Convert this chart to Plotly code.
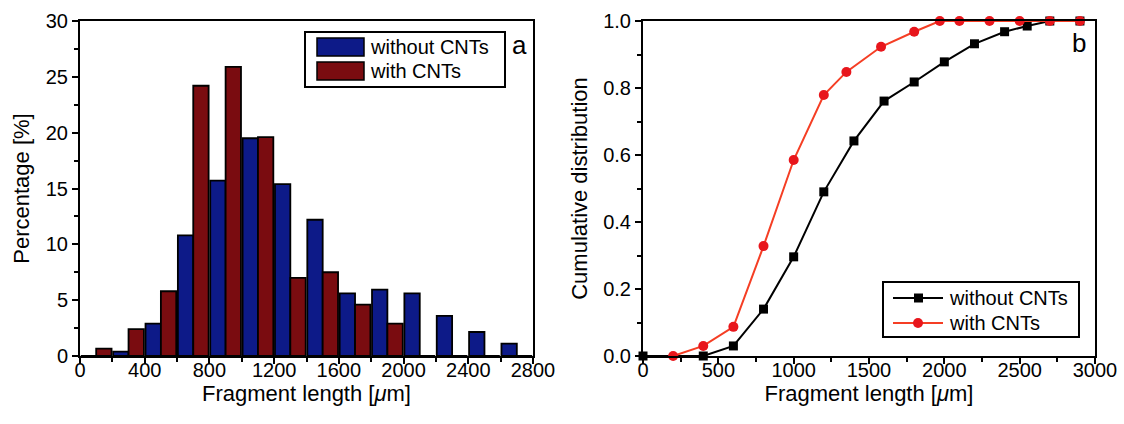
import plotly.graph_objects as go

# ---------------- data ----------------
bin_centers = [100, 300, 500, 700, 900, 1100, 1300, 1500, 1700, 1900, 2100, 2300, 2500, 2700]
pct_without = [0, 0.4, 2.9, 10.8, 15.7, 19.5, 15.4, 12.2, 5.6, 5.95, 5.6, 3.6, 2.15, 1.1]
pct_with = [0.66, 2.4, 5.8, 24.2, 25.9, 19.6, 7.0, 7.5, 4.6, 2.9, 0, 0, 0, 0]

cdf_without_x = [0, 400, 600, 800, 1000, 1200, 1400, 1600, 1800, 2000, 2200, 2400, 2550, 2700, 2900]
cdf_without_y = [0, 0, 0.03, 0.14, 0.296, 0.49, 0.642, 0.761, 0.818, 0.878, 0.932, 0.968, 0.985, 1.0, 1.0]
cdf_with_x = [200, 400, 600, 800, 1000, 1200, 1350, 1580, 1800, 1970, 2100, 2300, 2500, 2700, 2900]
cdf_with_y = [0, 0.03, 0.087, 0.328, 0.585, 0.779, 0.848, 0.923, 0.968, 1.0, 1.0, 1.0, 1.0, 1.0, 1.0]

series_names = ["without CNTs", "with CNTs"]

# ---------------- style ----------------
W, H = 1124, 424
FONT = "Liberation Sans, Arial, Helvetica, sans-serif"
BLUE = "#0d1a88"
MAROON = "#7a0c10"
LINE_RED = "#f53e24"
MARK_RED = "#e8161c"


def px(x):
    return x / W


def py(y):
    return 1 - y / H


fig = go.Figure()

fig.add_trace(go.Bar(x=bin_centers, y=pct_without, name=series_names[0],
                     marker=dict(color=BLUE, line=dict(color="black", width=1.8)),
                     xaxis="x", yaxis="y", showlegend=False))
fig.add_trace(go.Bar(x=bin_centers, y=pct_with, name=series_names[1],
                     marker=dict(color=MAROON, line=dict(color="black", width=1.8)),
                     xaxis="x", yaxis="y", showlegend=False))

fig.add_trace(go.Scatter(x=cdf_without_x, y=cdf_without_y, name=series_names[0], mode="lines+markers",
                         line=dict(color="black", width=2),
                         marker=dict(symbol="square", size=9, color="black"),
                         xaxis="x2", yaxis="y2", cliponaxis=False, showlegend=False))
fig.add_trace(go.Scatter(x=cdf_with_x, y=cdf_with_y, name=series_names[1], mode="lines+markers",
                         line=dict(color=LINE_RED, width=2),
                         marker=dict(symbol="circle", size=10, color=MARK_RED),
                         xaxis="x2", yaxis="y2", cliponaxis=False, showlegend=False))

axis_common = dict(showline=True, linecolor="black", linewidth=2, mirror=True,
                   ticks="outside", ticklen=6, tickwidth=1.5, tickcolor="black",
                   showgrid=False, zeroline=False, automargin=False,
                   tickfont=dict(family=FONT, size=20, color="black"))
title_font = dict(family=FONT, size=22, color="black")
minor_common = dict(ticks="outside", ticklen=4, tickcolor="black", tickwidth=1.5)

ydom = [py(356), py(21)]

fig.update_layout(
    template="none",
    width=W, height=H,
    margin=dict(l=0, r=0, t=0, b=0, autoexpand=False),
    paper_bgcolor="white", plot_bgcolor="white",
    barmode="group", bargap=0.05, bargroupgap=0,
    showlegend=False,
    xaxis=dict(domain=[px(80), px(533)], range=[0, 2800], dtick=400, tick0=0, tickformat="d",
               minor=dict(dtick=200, **minor_common), ticklabelstandoff=-11,
               title=dict(text="Fragment length [<i>μ</i>m]", font=title_font, standoff=1),
               anchor="y", **axis_common),
    yaxis=dict(domain=ydom, range=[0, 30], dtick=5,
               minor=dict(dtick=2.5, **minor_common),
               title=dict(text="Percentage [%]", font=title_font, standoff=10),
               anchor="x", **axis_common),
    xaxis2=dict(domain=[px(643), px(1095)], range=[0, 3000], dtick=500, tick0=0, tickformat="d",
                minor=dict(dtick=250, **minor_common), ticklabelstandoff=-11,
                title=dict(text="Fragment length [<i>μ</i>m]", font=title_font, standoff=1),
                anchor="y2", **axis_common),
    yaxis2=dict(domain=ydom, range=[0, 1.0], dtick=0.2, tickformat=".1f",
                minor=dict(dtick=0.1, **minor_common),
                title=dict(text="Cumulative distribution", font=title_font, standoff=9),
                anchor="x2", **axis_common),
)

shapes = []
annotations = []

# ---- legend a (bars) ----
shapes.append(dict(type="rect", xref="paper", yref="paper",
                   x0=px(305), x1=px(505), y0=py(87), y1=py(32),
                   line=dict(color="black", width=2), fillcolor="white"))
for i, (col, name) in enumerate(zip([BLUE, MAROON], series_names)):
    yc = 47 + i * 24
    shapes.append(dict(type="rect", xref="paper", yref="paper",
                       x0=px(317), x1=px(364), y0=py(yc + 9), y1=py(yc - 9),
                       line=dict(color="black", width=1.5), fillcolor=col))
    annotations.append(dict(xref="paper", yref="paper", x=px(368), y=py(yc), text=name,
                            showarrow=False, xanchor="left", yanchor="middle",
                            font=dict(family=FONT, size=20, color="black")))

# ---- legend b (lines) ----
shapes.append(dict(type="rect", xref="paper", yref="paper",
                   x0=px(883), x1=px(1079), y0=py(337), y1=py(282),
                   line=dict(color="black", width=2), fillcolor="white"))
for i, (lc, mc, sym, name) in enumerate(zip(["black", LINE_RED], ["black", MARK_RED],
                                             ["square", "circle"], series_names)):
    yc = 298 + i * 25
    shapes.append(dict(type="line", xref="paper", yref="paper",
                       x0=px(893), x1=px(943), y0=py(yc), y1=py(yc),
                       line=dict(color=lc, width=2)))
    if sym == "square":
        shapes.append(dict(type="rect", xref="paper", yref="paper",
                           x0=px(914), x1=px(923), y0=py(yc + 4.5), y1=py(yc - 4.5),
                           line=dict(color=mc, width=0), fillcolor=mc))
    else:
        shapes.append(dict(type="circle", xref="paper", yref="paper",
                           x0=px(913), x1=px(923), y0=py(yc + 5), y1=py(yc - 5),
                           line=dict(color=mc, width=0), fillcolor=mc))
    annotations.append(dict(xref="paper", yref="paper", x=px(947), y=py(yc), text=name,
                            showarrow=False, xanchor="left", yanchor="middle",
                            font=dict(family=FONT, size=20, color="black")))

# panel labels
annotations.append(dict(xref="paper", yref="paper", x=px(519), y=py(45), text="a",
                        showarrow=False, xanchor="center", yanchor="middle",
                        font=dict(family=FONT, size=26, color="black")))
annotations.append(dict(xref="paper", yref="paper", x=px(1079), y=py(43), text="b",
                        showarrow=False, xanchor="center", yanchor="middle",
                        font=dict(family=FONT, size=26, color="black")))

fig.update_layout(shapes=shapes, annotations=annotations)

fig.write_html("out.html", config={"displayModeBar": False},
               post_script="document.body.style.margin='0px';document.body.style.overflow='hidden';")
